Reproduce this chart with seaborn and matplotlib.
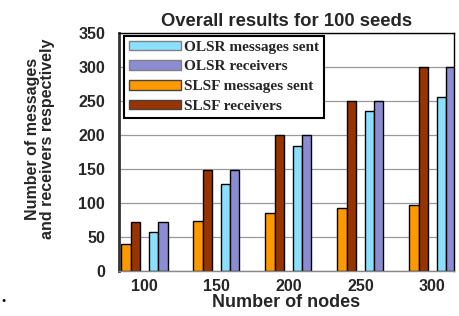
import matplotlib
matplotlib.use("Agg")
import matplotlib.pyplot as plt
import seaborn as sns
import pandas as pd
import numpy as np
from matplotlib.patches import Patch

nodes = ["100", "150", "200", "250", "300"]
slsf_sent = [40, 74, 86, 93, 97]
slsf_recv = [72, 149, 200, 250, 300]
olsr_sent = [57, 128, 184, 236, 256]
olsr_recv = [72, 149, 200, 250, 300]

series_names = ["SLSF messages sent", "SLSF receivers", "", "OLSR messages sent", "OLSR receivers"]
series_vals = [slsf_sent, slsf_recv, None, olsr_sent, olsr_recv]
colors = {"SLSF messages sent": "#FF9900", "SLSF receivers": "#993300", "": "#FFFFFF",
          "OLSR messages sent": "#8CE0FF", "OLSR receivers": "#8C8CD2"}

rows = []
for name, vals in zip(series_names, series_vals):
    if vals is None:
        continue
    for n, v in zip(nodes, vals):
        rows.append({"nodes": n, "series": name, "value": v})
df = pd.DataFrame(rows)

sns.set_style("white")
plt.rcParams["font.family"] = ["Liberation Sans", "DejaVu Sans"]

fig = plt.figure(figsize=(4.6, 3.16), dpi=100)
ax = fig.add_axes([119/460, 1-271/316, (454-119)/460, (271-33)/316])

sns.barplot(data=df, x="nodes", y="value", hue="series", hue_order=series_names,
            order=nodes, palette=colors, saturation=1, width=0.64, dodge=True,
            edgecolor="black", linewidth=1.0, ax=ax, legend=False, errorbar=None)

ax.set_xlim(-0.354, 4.30)
ax.set_ylim(0, 350)
ax.set_yticks(np.arange(0, 351, 50))
ax.yaxis.grid(True, color="#999999", linewidth=0.9)
ax.set_axisbelow(True)

for s in ["top", "right"]:
    ax.spines[s].set_color("black")
    ax.spines[s].set_linewidth(1.0)
ax.spines["left"].set_color("#333333")
ax.spines["left"].set_linewidth(2.0)
ax.spines["bottom"].set_color("#888888")
ax.spines["bottom"].set_linewidth(1.0)

ax.tick_params(axis="y", length=4, width=0.8, color="#888888", pad=6, labelsize=11.5)
ax.tick_params(axis="x", length=0, pad=6, labelsize=11.5)
for lab in ax.get_xticklabels() + ax.get_yticklabels():
    lab.set_fontweight("bold")

ax.set_xlabel("Number of nodes", fontsize=13, fontweight="bold", labelpad=0)
ax.set_ylabel("Number of messages\nand receivers respectively", fontsize=11.5,
              fontweight="bold", linespacing=1.0)
ax.yaxis.set_label_coords(-0.19, 0.555)
ax.set_title("Overall results for 100 seeds", fontsize=13.3, fontweight="bold", pad=5)

handles = [
    Patch(facecolor=colors["OLSR messages sent"], edgecolor="#808080", label="OLSR messages sent"),
    Patch(facecolor=colors["OLSR receivers"], edgecolor="#808080", label="OLSR receivers"),
    Patch(facecolor=colors["SLSF messages sent"], edgecolor="#444444", label="SLSF messages sent"),
    Patch(facecolor=colors["SLSF receivers"], edgecolor="#444444", label="SLSF receivers"),
]
leg = ax.legend(handles=handles, loc="upper left",
                bbox_to_anchor=(124/460, 1-36/316), bbox_transform=fig.transFigure,
                prop={"family": ["Liberation Serif"], "weight": "bold", "size": 11},
                frameon=True, fancybox=False, edgecolor="black", framealpha=1,
                handlelength=3.4, handleheight=0.55, handletextpad=0.25,
                labelspacing=0.45, borderpad=0.3, borderaxespad=0)
leg.get_frame().set_linewidth(1.5)

fig.text(0.002, 1-300/316, "\u25CF", fontsize=5, color="black", va="center", ha="left")

fig.savefig("out.png", dpi=100)
